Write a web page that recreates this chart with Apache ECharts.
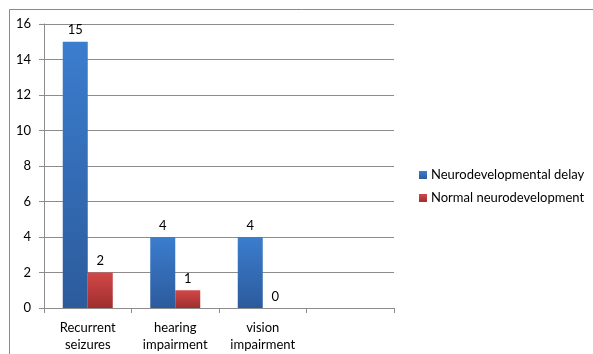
<!DOCTYPE html>
<html><head><meta charset="utf-8">
<script src="https://cdn.jsdelivr.net/npm/echarts@6/dist/echarts.min.js"></script>
<style>html,body{margin:0;padding:0;background:#fff}#c{width:593px;height:354px}</style>
</head><body><div id="c"></div>
<script>
var categories = ['Recurrent\nseizures', 'hearing\nimpairment', 'vision\nimpairment', ''];
var delayValues = [15, 4, 4, null];
var normalValues = [2, 1, 0, null];
var seriesNames = ['Neurodevelopmental delay', 'Normal neurodevelopment'];
var yTicks = {min: 0, max: 16, interval: 2};

var font = 'Lato';
function grad(top, bottom) {
  return new echarts.graphic.LinearGradient(0, 0, 0, 1, [{offset: 0, color: top}, {offset: 1, color: bottom}]);
}
var chart = echarts.init(document.getElementById('c'));
chart.setOption({
  animation: false,
  graphic: [{type: 'rect', shape: {x: 9.5, y: 9.5, width: 700, height: 500}, style: {fill: 'none', stroke: '#8a8a8a', lineWidth: 1}, silent: true}],
  grid: {left: 44, right: 199, top: 24, bottom: 46},
  legend: {
    orient: 'vertical', left: 414, top: 163, itemWidth: 8, itemHeight: 8, itemGap: 9,
    icon: 'rect',
    textStyle: {fontFamily: font, fontSize: 13, color: '#000', lineHeight: 14, padding: [0, 0, 0, -1]},
    data: seriesNames
  },
  xAxis: {
    type: 'category', data: categories,
    axisLine: {lineStyle: {color: '#8c8c8c'}},
    axisTick: {show: true, length: 5, lineStyle: {color: '#8c8c8c'}},
    axisLabel: {fontFamily: font, fontSize: 13, color: '#000', margin: 11, lineHeight: 17, interval: 0}
  },
  yAxis: {
    type: 'value', min: yTicks.min, max: yTicks.max, interval: yTicks.interval,
    axisLine: {show: true, lineStyle: {color: '#8c8c8c'}},
    axisTick: {show: true, length: 5, lineStyle: {color: '#8c8c8c'}},
    splitLine: {lineStyle: {color: '#8c8c8c'}},
    axisLabel: {fontFamily: font, fontSize: 13, color: '#000', margin: 13}
  },
  series: [
    {name: seriesNames[0], type: 'bar', data: delayValues, barWidth: 25, barGap: '0%',
     itemStyle: {color: grad('#3b7dce', '#2c5b9c')},
     label: {show: true, position: 'top', distance: 5, fontFamily: font, fontSize: 13, color: '#000'}},
    {name: seriesNames[1], type: 'bar', data: normalValues, barWidth: 25,
     itemStyle: {color: grad('#d24848', '#a02e2e')},
     label: {show: true, position: 'top', distance: 5, fontFamily: font, fontSize: 13, color: '#000'}}
  ]
});
</script></body></html>
